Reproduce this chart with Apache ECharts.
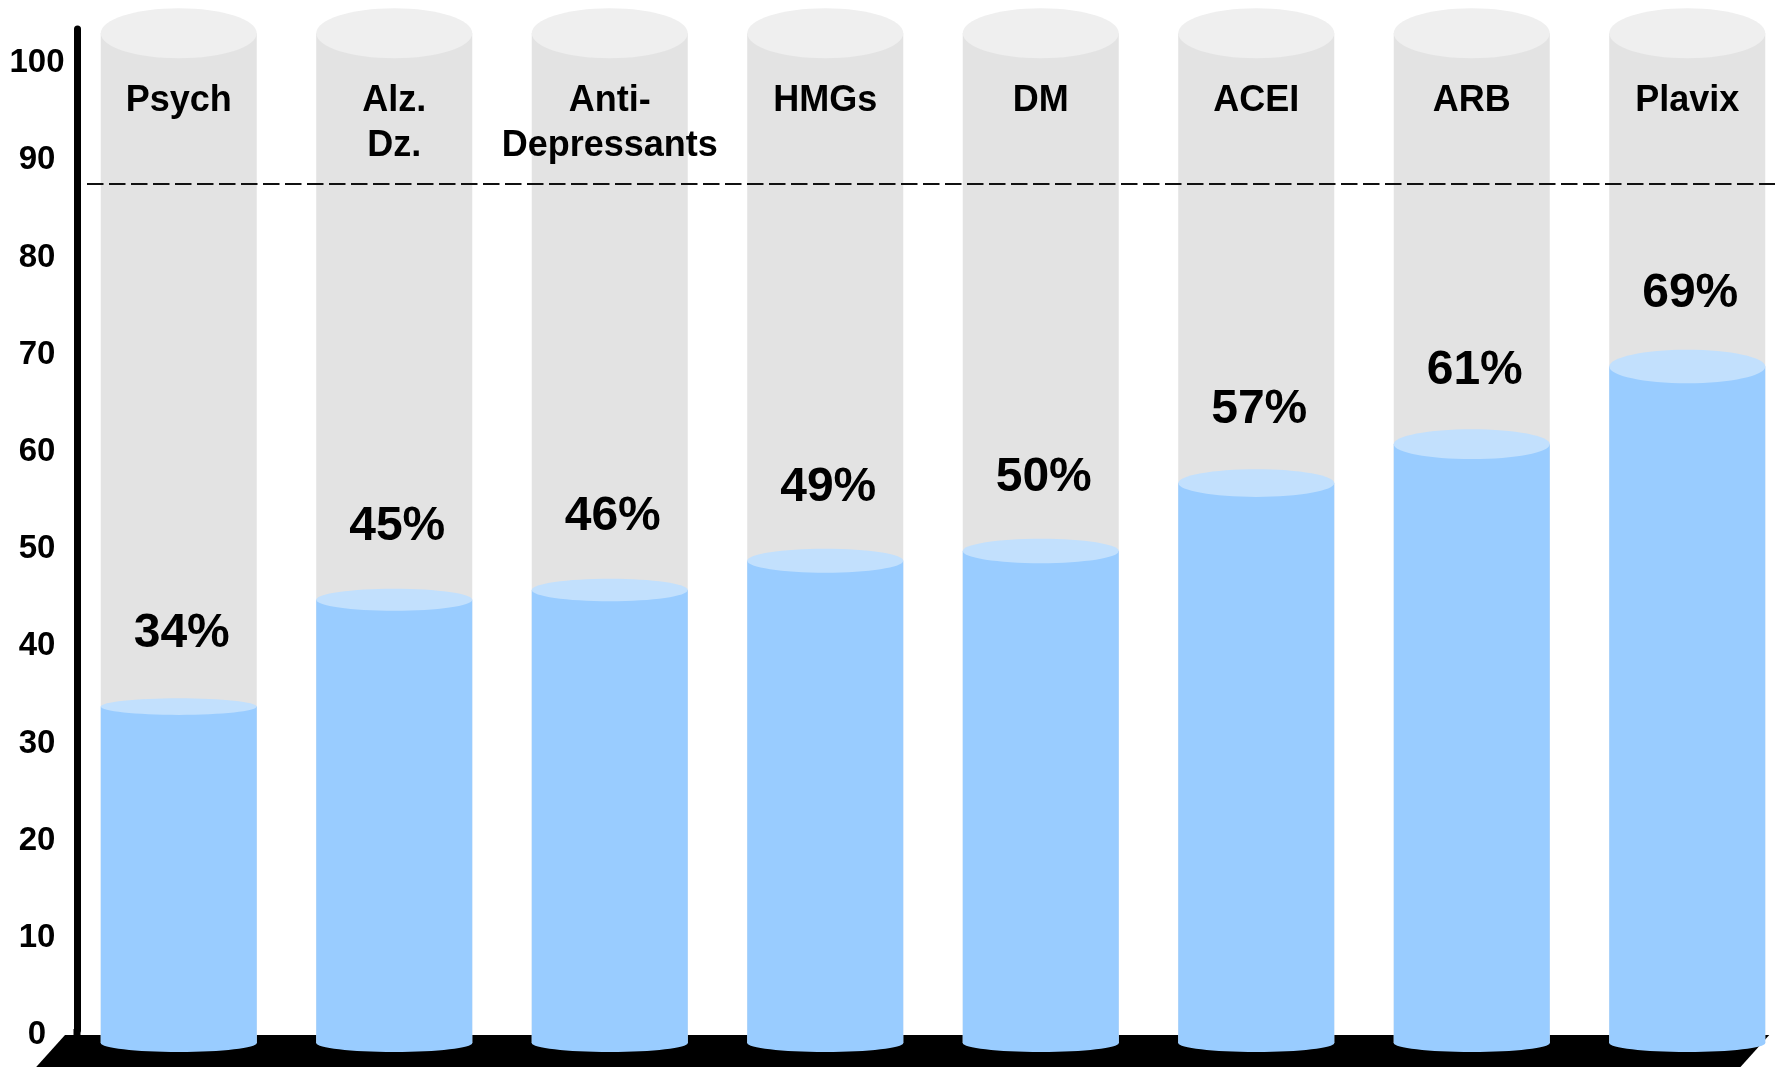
<!DOCTYPE html>
<html><head><meta charset="utf-8">
<script src="https://cdn.jsdelivr.net/npm/echarts@6/dist/echarts.min.js"></script>
<style>html,body{margin:0;padding:0;background:#fff}#c{width:1775px;height:1067px}</style>
</head><body><div id="c"></div>
<script>
const categories = ['Psych', 'Alz.\nDz.', 'Anti-\nDepressants', 'HMGs', 'DM', 'ACEI', 'ARB', 'Plavix'];
const values = [34, 45, 46, 49, 50, 57, 61, 69];
const yTicks = [0, 10, 20, 30, 40, 50, 60, 70, 80, 90, 100];
const trackMax = 100;
const referenceLevel = 87;

const FONT = "'Liberation Sans', Arial, Helvetica, sans-serif";
const GRID = { left: 71, top: 29, width: 1724, height: 1001 };
const AXIS_SHIFT = 6;
const BAR_RATIO = 0.724;

const chart = echarts.init(document.getElementById('c'), null, { renderer: 'canvas' });

function renderItem(params, api) {
  const idx = api.value(0);
  const v = api.value(1);
  const base = api.coord([idx, 0]);
  const full = api.coord([idx, trackMax]);
  const top = api.coord([idx, v]);
  const band = api.size([1, 0])[0];
  const rx = band * BAR_RATIO / 2;
  const cx = base[0];
  const baseY = base[1] + 13;
  const grayTopY = full[1] - 25;
  const blueTopY = top[1] + 7;
  const ryAt = y => Math.max(6, 25 - 0.0247 * (y - grayTopY));
  const blueRy = ryAt(blueTopY);
  return {
    type: 'group',
    children: [
      { type: 'rect', shape: { x: cx - rx, y: grayTopY, width: rx * 2, height: baseY - grayTopY }, style: { fill: '#e3e3e3' } },
      { type: 'ellipse', shape: { cx: cx, cy: grayTopY, rx: rx, ry: 25 }, style: { fill: '#efefef' } },
      { type: 'ellipse', shape: { cx: cx, cy: baseY, rx: rx, ry: 9 }, style: { fill: '#99ccff' } },
      { type: 'rect', shape: { x: cx - rx, y: blueTopY, width: rx * 2, height: baseY - blueTopY }, style: { fill: '#99ccff' } },
      { type: 'ellipse', shape: { cx: cx, cy: blueTopY, rx: rx, ry: blueRy }, style: { fill: '#c2e0fd' } },
      { type: 'text', x: cx + 3, y: top[1] - 66, style: { text: v + '%', fill: '#000', font: 'bold 48px ' + FONT, align: 'center', verticalAlign: 'middle' } }
    ]
  };
}

chart.setOption({
  animation: false,
  backgroundColor: '#fff',
  grid: Object.assign({ outerBoundsMode: 'none', containLabel: false }, GRID),
  xAxis: {
    type: 'category',
    data: categories,
    position: 'top',
    z: 20,
    axisLine: { show: false },
    axisTick: { show: false },
    axisLabel: {
      inside: true, interval: 0, margin: 50,
      color: '#000', fontFamily: FONT, fontWeight: 'bold', fontSize: 36, lineHeight: 45
    },
    splitLine: { show: false }
  },
  yAxis: {
    type: 'value',
    min: yTicks[0],
    max: 103,
    interval: yTicks[1] - yTicks[0],
    offset: -AXIS_SHIFT,
    z: 20,
    axisLine: { show: true, lineStyle: { color: '#000', width: 7 } },
    axisTick: { show: false },
    splitLine: { show: false },
    axisLabel: {
      showMaxLabel: false,
      formatter: v => (yTicks.indexOf(v) >= 0 ? '{t|' + v + '}' : ''),
      align: 'center', margin: 40,
      rich: {
        t: { color: '#000', fontFamily: FONT, fontWeight: 'bold', fontSize: 33, padding: [10, 0, 0, 0], align: 'center' }
      },
      color: '#000', fontFamily: FONT, fontWeight: 'bold', fontSize: 33
    }
  },
  series: [
    {
      type: 'custom',
      z: 10,
      renderItem: renderItem,
      data: values.map((v, i) => [i, v]),
      encode: { x: 0, y: 1 }
    }
  ]
});

const zeroY = chart.convertToPixel({ yAxisIndex: 0 }, 0);
const refY = Math.round(chart.convertToPixel({ yAxisIndex: 0 }, referenceLevel));
const lastX = chart.convertToPixel({ xAxisIndex: 0 }, categories.length - 1);
const halfW = GRID.width / categories.length * BAR_RATIO / 2;
const axisX = GRID.left + AXIS_SHIFT;
const T = zeroY + 5;
const L = axisX - 12;
const R = lastX + halfW + 4;
chart.setOption({
  graphic: [
    { type: 'polygon', z: 1, shape: { points: [[L, T], [R, T], [R - 36, T + 40], [L - 36, T + 40]] }, style: { fill: '#000' } },
    { type: 'rect', z: 1, shape: { x: axisX - 3.5, y: zeroY - 1, width: 7, height: 8 }, style: { fill: '#000' } },
    { type: 'line', z: 50, silent: true, shape: { x1: axisX + 10, y1: refY, x2: 1775, y2: refY }, style: { stroke: '#111', lineWidth: 2, lineDash: [16.5, 5.5] } }
  ]
});
</script>
</body></html>
